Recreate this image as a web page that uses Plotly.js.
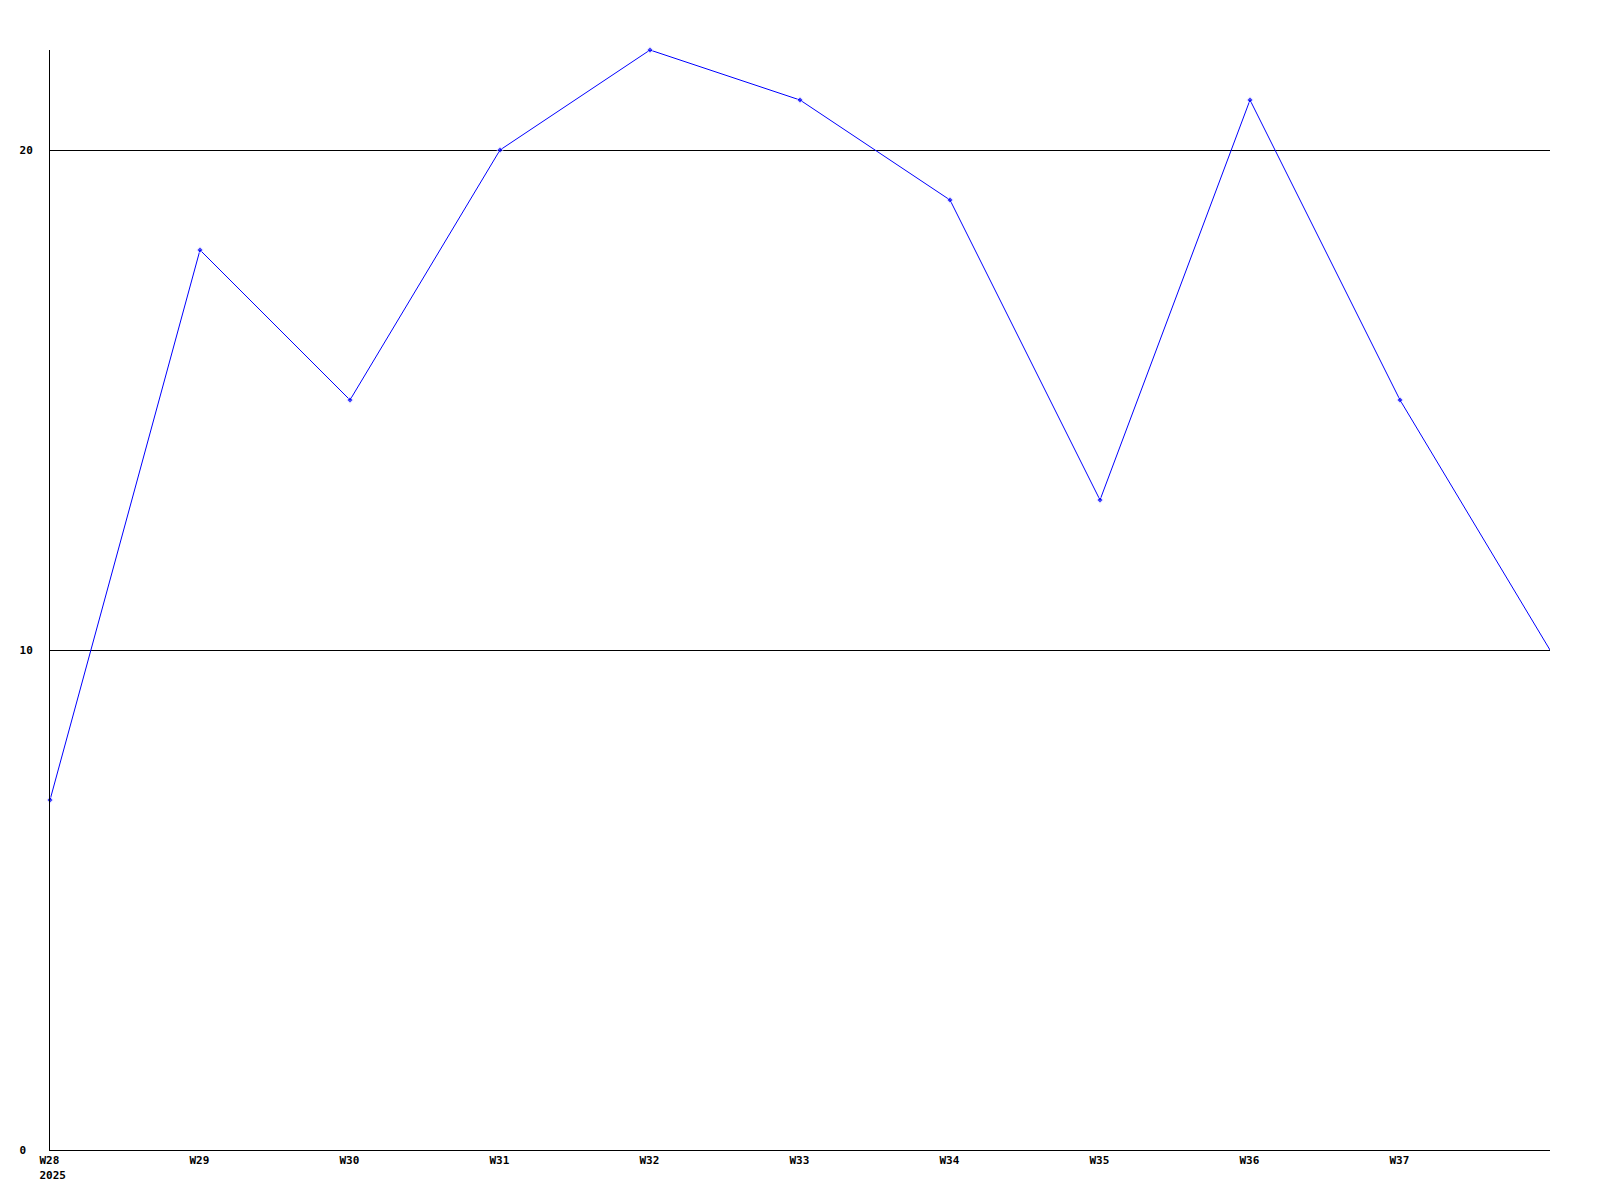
<!DOCTYPE html>
<html>
<head>
<meta charset="utf-8">
<script src="https://cdn.plot.ly/plotly-3.0.1.min.js"></script>
<style>html,body{margin:0;padding:0;background:#fff;}#chart{width:1600px;height:1200px;}</style>
</head>
<body>
<div id="chart"></div>
<script>
// Data
const weeks = [28, 29, 30, 31, 32, 33, 34, 35, 36, 37, 38];
const counts = [7, 18, 15, 20, 22, 21, 19, 13, 21, 15, 10];
const xTickVals = [28, 29, 30, 31, 32, 33, 34, 35, 36, 37];
const xTickText = ["W28<br>2025", "W29", "W30", "W31", "W32", "W33", "W34", "W35", "W36", "W37"];
const yTickVals = [0, 10, 20];
const yTickText = ["0\u00a0", "10", "20"];

const markerSizes = weeks.map((w, i) => (i === weeks.length - 1 ? 0 : 5));

const font = {family: "DejaVu Sans Mono, monospace", size: 11, color: "#000", weight: 700};

Plotly.newPlot("chart", [{
  x: weeks,
  y: counts,
  type: "scatter",
  mode: "lines+markers",
  line: {color: "#0000ff", width: 1},
  marker: {color: "#0000ff", size: markerSizes, symbol: "diamond"},
  cliponaxis: false,
  hoverinfo: "none"
}], {
  width: 1600,
  height: 1200,
  margin: {l: 50, r: 50, t: 50, b: 50},
  paper_bgcolor: "#fff",
  plot_bgcolor: "#fff",
  showlegend: false,
  font: font,
  xaxis: {
    range: [28, 38],
    tickvals: xTickVals,
    ticktext: xTickText,
    ticklabelposition: "outside right",
    ticklabelshift: -11,
    showgrid: false,
    zeroline: false,
    showline: true,
    linecolor: "#000",
    linewidth: 1,
    ticks: "",
    tickfont: font,
    fixedrange: true
  },
  yaxis: {
    range: [0, 22],
    tickvals: yTickVals,
    ticktext: yTickText,
    showgrid: true,
    gridcolor: "#000",
    gridwidth: 1,
    zeroline: false,
    showline: true,
    linecolor: "#000",
    linewidth: 1,
    ticks: "",
    ticklabelstandoff: 14,
    tickfont: font,
    fixedrange: true
  }
}, {displayModeBar: false, staticPlot: true});
</script>
</body>
</html>
